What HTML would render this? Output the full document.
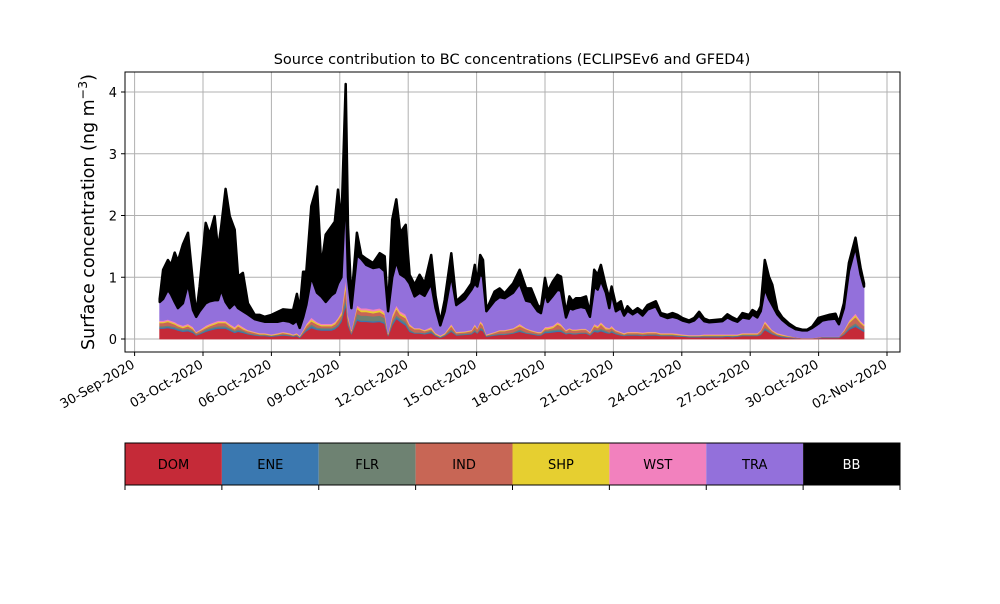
<!DOCTYPE html>
<html><head><meta charset="utf-8"><style>
body{margin:0;background:#fff;width:1000px;height:600px;overflow:hidden;font-family:"DejaVu Sans","Liberation Sans",sans-serif}
</style></head><body>
<svg id="chart" width="1000" height="600" viewBox="0 0 1000 600" xmlns="http://www.w3.org/2000/svg" font-family="DejaVu Sans, Liberation Sans, sans-serif">
<rect x="0" y="0" width="1000" height="600" fill="#fff"/>
<text x="512" y="64" font-size="14.5" text-anchor="middle">Source contribution to BC concentrations (ECLIPSEv6 and GFED4)</text>
<text transform="translate(94,212) rotate(-90)" font-size="17.5" text-anchor="middle">Surface concentration (ng m<tspan dy="-7" font-size="12.5">−3</tspan><tspan dy="7">)</tspan></text>
<g id="grid"></g><g id="areas"></g><g id="axes"></g><g id="legend"></g>
</svg>
<script>
const times=[0.1,0.25,0.46,0.6,0.76,0.9,1.12,1.34,1.56,1.7,1.85,2.12,2.29,2.51,2.66,2.8,2.99,3.17,3.39,3.54,3.75,3.97,4.27,4.49,4.7,5.0,5.29,5.51,5.8,5.95,6.12,6.24,6.39,6.53,6.75,7.0,7.19,7.38,7.63,7.78,7.92,8.07,8.26,8.36,8.51,8.75,8.94,9.16,9.46,9.75,9.97,10.12,10.3,10.48,10.65,10.89,11.06,11.28,11.5,11.72,12.01,12.2,12.41,12.6,12.89,13.11,13.48,13.77,13.92,14.03,14.16,14.28,14.43,14.79,15.01,15.23,15.6,15.89,16.17,16.39,16.68,16.82,17.0,17.12,17.34,17.55,17.7,17.92,18.07,18.21,18.36,18.58,18.8,18.97,19.16,19.31,19.45,19.67,19.82,19.92,20.11,20.33,20.47,20.62,20.84,21.06,21.28,21.5,21.86,22.08,22.37,22.59,22.81,23.03,23.32,23.54,23.76,23.98,24.2,24.49,24.78,25.0,25.22,25.44,25.66,25.95,26.1,26.31,26.46,26.64,26.82,26.97,27.19,27.41,27.7,27.99,28.28,28.5,28.72,28.99,29.16,29.45,29.74,29.89,30.11,30.33,30.62,30.84,30.99];
const DOM=[.17,.17,.18,.17,.16,.14,.12,.13,.1,.06,.08,.12,.14,.16,.17,.17,.17,.14,.1,.12,.1,.08,.06,.05,.05,.04,.05,.06,.05,.04,.05,.02,.08,.13,.18,.15,.14,.14,.14,.16,.2,.28,.55,.22,.08,.3,.28,.28,.27,.28,.25,.05,.22,.33,.28,.22,.12,.09,.09,.08,.1,.05,.02,.05,.12,.06,.07,.08,.12,.09,.15,.13,.04,.06,.07,.07,.09,.12,.09,.08,.06,.06,.1,.1,.11,.12,.12,.08,.09,.08,.08,.09,.09,.06,.12,.11,.13,.1,.09,.11,.08,.06,.05,.06,.06,.06,.05,.06,.06,.05,.05,.05,.04,.04,.03,.03,.03,.03,.03,.03,.03,.04,.03,.04,.05,.05,.05,.05,.07,.15,.11,.08,.05,.03,.02,.01,.01,.01,.01,.01,.02,.02,.02,.02,.07,.15,.2,.15,.12];
const ENE=[.02,.02,.02,.02,.02,.02,.02,.02,.02,.01,.01,.02,.02,.02,.02,.02,.02,.02,.02,.02,.02,.01,.01,.01,.01,.01,.01,.01,.01,.01,.01,.01,.01,.02,.03,.02,.02,.02,.02,.02,.02,.03,.07,.03,.01,.03,.02,.02,.02,.02,.02,.01,.03,.03,.03,.03,.02,.01,.01,.01,.02,.01,.01,.01,.02,.01,.01,.01,.02,.01,.02,.02,.01,.01,.01,.01,.01,.02,.01,.01,.01,.01,.02,.02,.02,.02,.02,.01,.01,.01,.01,.01,.01,.01,.02,.02,.02,.02,.01,.02,.01,.01,.01,.01,.01,.01,.01,.01,.01,.01,.01,.01,.01,.01,.01,.01,.01,.01,.01,.01,.01,.01,.01,.01,.01,.01,.01,.01,.01,.02,.02,.01,.01,.01,.01,.01,0,0,0,.01,.01,.01,.01,.01,.01,.02,.03,.02,.02];
const FLR=[.02,.02,.02,.02,.02,.02,.02,.02,.02,.01,.01,.02,.02,.02,.02,.02,.02,.02,.02,.02,.02,.01,.01,.01,.01,.01,.01,.01,.01,.01,.01,.01,.01,.02,.03,.02,.02,.02,.02,.02,.02,.03,.07,.03,.01,.08,.08,.08,.08,.08,.07,.01,.03,.03,.03,.03,.02,.01,.01,.01,.02,.01,.01,.01,.02,.01,.01,.01,.02,.01,.02,.02,.01,.01,.01,.01,.01,.02,.01,.01,.01,.01,.02,.02,.02,.02,.02,.01,.01,.01,.01,.01,.01,.01,.02,.02,.02,.02,.01,.02,.01,.01,.01,.01,.01,.01,.01,.01,.01,.01,.01,.01,.01,.01,.01,.01,.01,.01,.01,.01,.01,.01,.01,.01,.01,.01,.01,.01,.01,.02,.02,.01,.01,.01,0,0,0,0,0,0,0,0,0,0,.01,.02,.03,.02,.02];
const IND=[.05,.05,.06,.05,.04,.03,.02,.04,.02,.02,.03,.02,.03,.04,.05,.05,.05,.03,.02,.05,.02,.03,.02,.01,.01,0,.01,.02,.01,0,.01,0,.03,.04,.05,.05,.03,.03,.03,.04,.07,.05,.17,.06,.03,.08,.06,.06,.05,.06,.05,.01,.06,.1,.05,.06,.05,.05,.05,.03,.02,.01,0,.01,.05,.02,.02,.03,.05,.05,.07,.04,0,.02,.04,.04,.05,.05,.05,.03,.02,.02,.02,.02,.03,.08,.05,.03,.05,.04,.04,.04,.04,.02,.05,.03,.07,.02,.05,.03,.03,.02,.01,.02,.02,.02,.02,.02,.02,.01,.01,.01,.01,0,0,0,0,.01,.01,.01,.01,0,.01,0,.01,.01,.01,.01,.04,.07,.03,.03,.01,.01,.01,.01,.01,.01,.01,.01,.01,.01,.01,.01,.04,.07,.1,.07,.05];
const SHP=[.02,.02,.02,.02,.02,.02,.02,.02,.02,.01,.01,.02,.02,.02,.02,.02,.02,.02,.02,.02,.02,.01,.01,.01,.01,.01,.01,.01,.01,.01,.01,.01,.01,.02,.03,.02,.02,.02,.02,.02,.02,.03,.07,.03,.01,.03,.03,.03,.03,.03,.03,.01,.03,.03,.03,.03,.02,.01,.01,.01,.02,.01,.01,.01,.02,.01,.01,.01,.02,.01,.02,.02,.01,.01,.01,.01,.01,.02,.01,.01,.01,.01,.02,.02,.02,.02,.02,.01,.01,.01,.01,.01,.01,.01,.02,.02,.02,.02,.01,.02,.01,.01,.01,.01,.01,.01,.01,.01,.01,.01,.01,.01,.01,.01,.01,.01,.01,.01,.01,.01,.01,.01,.01,.01,.01,.01,.01,.01,.01,.02,.02,.01,.01,.01,.01,0,0,0,0,0,0,0,0,0,.01,.02,.03,.02,.02];
const WST=[.02,.02,.02,.02,.02,.02,.02,.02,.02,.01,.01,.02,.02,.02,.02,.02,.02,.02,.02,.02,.02,.01,.01,.01,.01,.01,.01,.01,.01,.01,.01,.01,.01,.02,.03,.02,.02,.02,.02,.02,.02,.03,.07,.03,.01,.03,.03,.03,.03,.03,.03,.01,.03,.03,.03,.03,.02,.01,.01,.01,.02,.01,.01,.01,.02,.01,.01,.01,.02,.01,.02,.02,.01,.01,.01,.01,.01,.02,.01,.01,.01,.01,.02,.02,.02,.02,.02,.01,.01,.01,.01,.01,.01,.01,.02,.02,.02,.02,.01,.02,.01,.01,.01,.01,.01,.01,.01,.01,.01,.01,.01,.01,.01,.01,.01,.01,.01,.01,.01,.01,.01,.01,.01,.01,.01,.01,.01,.01,.01,.02,.02,.01,.01,.01,0,0,0,0,0,0,0,0,0,0,.01,.02,.03,.02,.02];
const TRA=[.3,.35,.48,.42,.32,.25,.36,.65,.27,.24,.3,.36,.36,.35,.33,.5,.3,.25,.38,.25,.25,.25,.2,.2,.18,.2,.18,.18,.18,.17,.2,.12,.2,.3,.66,.47,.44,.35,.46,.47,.55,.55,1.47,.6,.35,.81,.8,.7,.67,.67,.65,.35,.6,.71,.6,.59,.65,.51,.57,.55,.7,.4,.16,.35,.79,.43,.52,.65,.65,.67,.77,.75,.37,.5,.53,.51,.57,.65,.44,.45,.33,.3,.55,.4,.48,.52,.53,.2,.32,.32,.34,.35,.33,.24,.6,.58,.67,.55,.32,.53,.3,.38,.28,.34,.28,.33,.27,.36,.41,.28,.24,.26,.25,.22,.2,.23,.31,.21,.19,.2,.21,.27,.23,.2,.25,.23,.3,.25,.3,.52,.43,.4,.3,.23,.17,.13,.12,.12,.16,.22,.26,.28,.29,.2,.35,.8,1.08,.75,.6];
const BB=[.05,.47,.48,.48,.8,.76,.95,.82,.43,.04,.4,1.3,1.08,1.36,.82,1.02,1.83,1.49,1.19,.51,.62,.18,.07,.09,.08,.11,.16,.18,.19,.22,.43,.3,.74,.54,1.14,1.72,.48,1.09,1.11,1.15,1.52,.88,1.66,.82,.13,.36,.06,.1,.08,.22,.24,.02,.93,1.0,.67,.86,.14,.19,.29,.2,.46,.19,.05,.18,.35,.06,.09,.1,.3,.05,.29,.28,.02,.15,.14,.08,.15,.22,.2,.22,.1,.08,.24,.17,.23,.24,.23,.07,.19,.13,.16,.14,.19,.06,.27,.24,.25,.1,.16,.1,.1,.11,.04,.07,.04,.05,.06,.07,.08,.04,.05,.06,.05,.04,.03,.04,.06,.04,.03,.03,.03,.05,.04,.03,.07,.06,.07,.07,.08,.46,.36,.33,.07,.04,.03,.02,.01,.01,.02,.09,.06,.07,.08,.03,.08,.13,.14,.1,.05];
const seriesNames=["DOM","ENE","FLR","IND","SHP","WST","TRA","BB"];
const seriesColors=["#c52a38","#3a78b0","#6e8272","#c86655","#e6cf30","#f281be","#9370db","#000000"];
const yTicks=[0,1,2,3,4];
const xTickDays=[-1,2,5,8,11,14,17,20,23,26,29,32];
const xTickLabels=["30-Sep-2020","03-Oct-2020","06-Oct-2020","09-Oct-2020","12-Oct-2020","15-Oct-2020","18-Oct-2020","21-Oct-2020","24-Oct-2020","27-Oct-2020","30-Oct-2020","02-Nov-2020"];

const NS="http://www.w3.org/2000/svg";
const L=125,R=900,T=72,B=352;
const xs=t=>157.4+t*22.8;
const ys=v=>339-v*61.75;
function mk(tag,attrs,parent){const e=document.createElementNS(NS,tag);for(const k in attrs)e.setAttribute(k,attrs[k]);parent.appendChild(e);return e;}
const grid=document.getElementById('grid'),areas=document.getElementById('areas'),axes=document.getElementById('axes'),legend=document.getElementById('legend');
xTickDays.forEach((d,i)=>{const x=xs(d);
  const g=mk('line',{x1:x,x2:x,y1:T,y2:B,stroke:'#b0b0b0','stroke-width':1},grid);
  
  
  const tk=mk('line',{x1:x,x2:x,y1:B,y2:B+4,stroke:'#000','stroke-width':1},axes);
  
  
  const tx=mk('text',{transform:`translate(${x+1},${B+15}) rotate(-30)`,'font-size':13,'text-anchor':'end'},axes);
  tx.textContent=xTickLabels[i];
  
  
});
yTicks.forEach(v=>{const y=ys(v);
  const g=mk('line',{x1:L,x2:R,y1:y,y2:y,stroke:'#b0b0b0','stroke-width':1},grid);
  
  
  const tk=mk('line',{x1:L-4,x2:L,y1:y,y2:y,stroke:'#000'},axes);
  
  
  const tx=mk('text',{x:L-8,y:y+5,'font-size':13,'text-anchor':'end'},axes);
  tx.textContent=String(v);
  
  
});
const all=[DOM,ENE,FLR,IND,SHP,WST,TRA,BB];
const n=Math.min(times.length,...all.map(a=>a.length));
let base=new Array(n).fill(0);
all.forEach((arr,si)=>{
  const top=base.map((b,i)=>b+arr[i]);
  let d='';
  for(let i=0;i<n;i++)d+=(i?'L':'M')+xs(times[i]).toFixed(1)+','+ys(top[i]).toFixed(1);
  for(let i=n-1;i>=0;i--)d+='L'+xs(times[i]).toFixed(1)+','+ys(base[i]).toFixed(1);
  d+='Z';
  const p=mk('path',{d:d,fill:seriesColors[si],stroke:seriesColors[si],'stroke-width':si===7?2.5:0.8,'stroke-linejoin':'round'},areas);
  
  
  base=top;
});
const frame=mk('rect',{x:L,y:T,width:R-L,height:B-T,fill:'none',stroke:'#000','stroke-width':1},axes);


const lw=(R-L)/8;
seriesNames.forEach((nm,i)=>{
  const r=mk('rect',{x:L+i*lw,y:443,width:lw,height:42,fill:seriesColors[i]},legend);
  
  
  const t=mk('text',{x:L+i*lw+lw/2,y:469,'font-size':13,'text-anchor':'middle',fill:i===7?'#fff':'#000'},legend);
  t.textContent=nm;
  
  
});
for(let i=0;i<=8;i++){const x=L+i*lw;
  const tk=mk('line',{x1:x,x2:x,y1:485,y2:490,stroke:'#000'},legend);
  
  
}
const lb=mk('rect',{x:L,y:443,width:R-L,height:42,fill:'none',stroke:'#000','stroke-width':1},legend);


</script>
</body></html>
